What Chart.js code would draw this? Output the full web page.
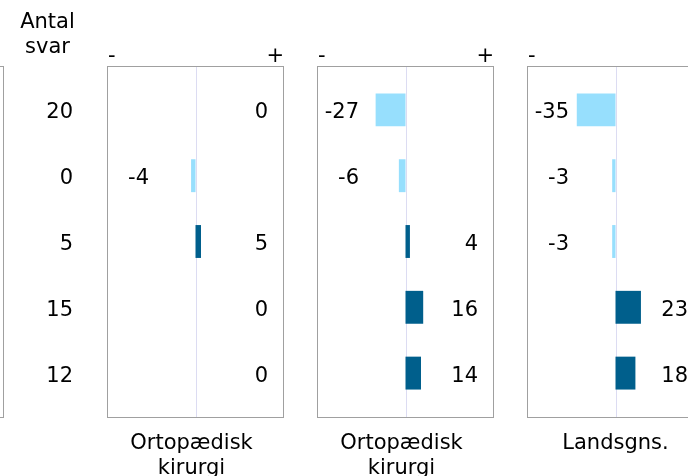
<!DOCTYPE html>
<html>
<head>
<meta charset="utf-8">
<script src="https://cdn.jsdelivr.net/npm/chart.js@4/dist/chart.umd.min.js"></script>
<style>
  html, body { margin: 0; padding: 0; background: #fff; overflow: hidden; }
  #wrap { position: relative; width: 688px; height: 476px; overflow: hidden; }
  #wrap canvas { position: absolute; top: 0; }
  #prevPanel { position: absolute; left: -174px; top: 66px; width: 176px; height: 350px;
               border: 1px solid #a0a0a0; }
</style>
</head>
<body>
<div id="wrap">
  <div id="prevPanel"></div>
  <canvas id="p0" width="300" height="476" style="left:0px"></canvas>
  <canvas id="p1" width="300" height="476" style="left:210px"></canvas>
  <canvas id="p2" width="300" height="476" style="left:420px"></canvas>
</div>
<script>
// number of answers per row
const rowCounts = [20, 0, 5, 15, 12];

// differences per row, one array per panel
const ortoValuesA = [0, -4, 5, 0, 0];
const ortoValuesB = [-27, -6, 4, 16, 14];
const landsValues = [-35, -3, -3, 23, 18];

const panelNames = [['Ortopædisk', 'kirurgi'], ['Ortopædisk', 'kirurgi'], ['Landsgns.']];

const negColor = '#97dffd';
const posColor = '#005f8c';
const FONT = '21px "DejaVu Sans"';

const panelDecor = {
  id: 'panelDecor',
  beforeDatasetsDraw(chart, args, opts) {
    const { ctx, chartArea: a, scales: { x } } = chart;
    ctx.save();
    // zero line
    const zx = Math.round(x.getPixelForValue(0)) + 0.5;
    ctx.strokeStyle = '#dcdcf2';
    ctx.lineWidth = 1;
    ctx.beginPath();
    ctx.moveTo(zx, a.top - 11);
    ctx.lineTo(zx, a.bottom + 11);
    ctx.stroke();
    // frame
    ctx.strokeStyle = '#a0a0a0';
    ctx.strokeRect(a.left + 0.5, a.top - 11 + 0.5, a.right - a.left - 1, a.bottom - a.top + 22);
    ctx.restore();
  },
  afterDatasetsDraw(chart, args, opts) {
    const { ctx, chartArea: a } = chart;
    const meta = chart.getDatasetMeta(0);
    const values = chart.data.datasets[0].data;
    ctx.save();
    ctx.font = FONT;
    ctx.fillStyle = '#000';
    ctx.textBaseline = 'middle';
    ctx.textAlign = 'right';
    meta.data.forEach((bar, i) => {
      const v = values[i];
      const tx = v < 0 ? a.left + 42 : a.right - 16;
      ctx.fillText(String(v), tx, bar.y + 3);
    });
    // - and + over the frame
    ctx.textAlign = 'left';
    ctx.fillText('-', a.left + 1, 57);
    ctx.textAlign = 'right';
    ctx.fillText('+', a.right, 57);
    // panel name under the frame
    ctx.textAlign = 'center';
    ctx.textBaseline = 'alphabetic';
    const lines = opts.name;
    const cx = (a.left + a.right) / 2 - (lines.length > 1 ? 4 : 0);
    lines.forEach((t, k) => ctx.fillText(t, cx, 449 + k * 25));
    // column header for the counts
    if (opts.header) {
      ctx.fillText('Antal', 47.5, 28);
      ctx.fillText('svar', 47.5, 53);
    }
    ctx.restore();
  }
};

function makePanel(id, values, idx) {
  const first = idx === 0;
  const yScale = {
    display: first,
    grid: { display: false, drawTicks: false },
    border: { display: false },
    ticks: { padding: 34, labelOffset: 3, color: '#000', font: { family: 'DejaVu Sans', size: 21 } }
  };
  if (first) yScale.afterFit = (scale) => { scale.width = 107; };

  return new Chart(document.getElementById(id), {
    type: 'bar',
    data: {
      labels: rowCounts.map(String),
      datasets: [{
        data: values,
        backgroundColor: values.map(v => v < 0 ? negColor : posColor),
        borderWidth: 0,
        barPercentage: 0.5,
        categoryPercentage: 1
      }]
    },
    options: {
      indexAxis: 'y',
      animation: false,
      responsive: false,
      layout: { padding: { left: first ? 0 : 107, right: 16, top: 77, bottom: 70 } },
      plugins: {
        legend: { display: false },
        tooltip: { enabled: false },
        panelDecor: { name: panelNames[idx], header: first }
      },
      scales: {
        x: { min: -80, max: 80, display: false },
        y: yScale
      }
    },
    plugins: [panelDecor]
  });
}

makePanel('p0', ortoValuesA, 0);
makePanel('p1', ortoValuesB, 1);
makePanel('p2', landsValues, 2);
</script>
</body>
</html>
